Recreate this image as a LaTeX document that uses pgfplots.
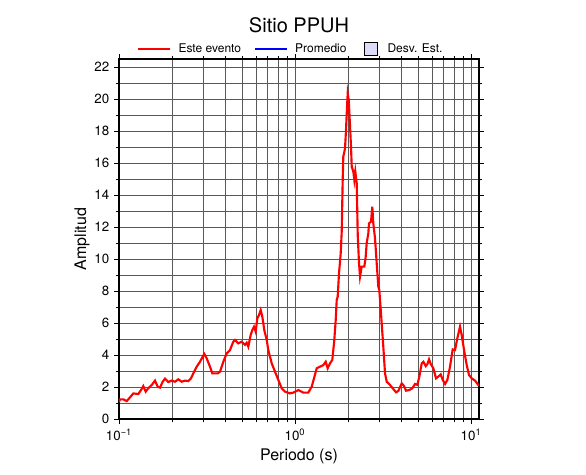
\documentclass[border=0pt]{standalone}
\usepackage{fontspec}
\setmainfont{TeX Gyre Heros}
\usepackage{pgfplots}
\pgfplotsset{compat=1.18}
\usepackage{pgfplotstable}
\definecolor{desvfill}{RGB}{220,220,250}
\pgfplotstableread{
T A
0.1000 1.06
0.1013 1.23
0.1058 1.23
0.1106 1.12
0.1155 1.35
0.1206 1.60
0.1287 1.56
0.1334 1.81
0.1374 2.06
0.1418 1.71
0.1467 1.92
0.1534 2.12
0.1602 2.40
0.1659 2.02
0.1710 1.96
0.1771 2.33
0.1825 2.52
0.1906 2.31
0.1993 2.40
0.2080 2.33
0.2173 2.48
0.2272 2.33
0.2371 2.40
0.2475 2.37
0.2565 2.54
0.2644 2.85
0.2764 3.27
0.2886 3.58
0.2974 3.85
0.3053 4.06
0.3150 3.79
0.3289 3.27
0.3390 2.85
0.3511 2.85
0.3637 2.85
0.3749 2.96
0.3915 3.58
0.4092 4.10
0.4272 4.31
0.4461 4.83
0.4560 4.94
0.4762 4.73
0.4978 4.83
0.5199 4.63
0.5316 4.77
0.5428 4.52
0.5601 5.25
0.5720 5.56
0.5848 5.77
0.5980 5.46
0.6107 6.29
0.6244 6.50
0.6384 6.81
0.6520 6.40
0.6692 5.56
0.6906 4.94
0.7052 4.31
0.7373 3.48
0.7699 2.96
0.8039 2.44
0.8403 1.92
0.8774 1.71
0.9367 1.60
0.9779 1.65
1.0441 1.81
1.1147 1.65
1.1902 1.65
1.2440 2.02
1.2823 2.54
1.3283 3.17
1.3868 3.27
1.4481 3.37
1.4942 3.58
1.5339 3.17
1.5809 3.48
1.6291 3.69
1.6724 4.94
1.7035 6.19
1.7257 7.44
1.7484 7.65
1.7783 9.10
1.8184 10.35
1.8424 11.70
1.8665 14.94
1.8813 16.40
1.9238 16.90
1.9491 18.06
1.9749 19.50
1.9928 20.35
2.0191 19.94
2.0458 18.69
2.0811 17.00
2.1003 15.77
2.1448 15.46
2.1728 14.94
2.2015 15.46
2.2423 14.73
2.2719 11.50
2.3106 9.73
2.3411 8.90
2.3933 9.52
2.4762 9.52
2.5216 10.15
2.5549 11.00
2.6091 11.60
2.6333 12.23
2.7027 12.33
2.7492 13.27
2.7855 12.23
2.8480 11.30
2.9124 9.73
2.9741 8.27
3.0130 8.06
3.0806 6.60
3.1748 4.52
3.2465 2.85
3.3196 2.33
3.4657 2.13
3.6184 1.875
3.7489 1.67
3.8631 1.75
4.0392 2.23
4.1622 2.06
4.2727 1.77
4.4609 1.81
4.6398 1.92
4.8070 2.19
4.9543 2.13
5.0859 2.65
5.2480 3.48
5.3591 3.58
5.5300 3.31
5.6470 3.42
5.7747 3.73
5.9040 3.44
6.1087 3.17
6.3281 2.54
6.5217 2.65
6.7298 2.79
6.9087 2.44
7.1203 2.19
7.3372 2.44
7.5996 3.27
7.8705 4.35
8.1113 4.31
8.3597 5.04
8.6596 5.77
8.8552 5.25
9.1604 4.21
9.4538 3.37
9.7410 2.75
10.092 2.54
10.537 2.40
11.000 2.13
11.100 2.08
}\evento
\begin{document}
\begin{tikzpicture}
\useasboundingbox (-89.25pt,-42pt) rectangle (350.25pt,314.25pt);
\begin{axis}[
  at={(0,0)}, anchor=south west,
  scale only axis, width=270pt, height=270pt,
  xmode=log, xmin=0.1, xmax=11.1,
  ymin=0, ymax=22.5,
  xtick={0.1,1,10},
  xticklabels={10\textsuperscript{−1},10\textsuperscript{0},10\textsuperscript{1}},
  minor xtick={0.2,0.3,0.4,0.5,0.6,0.7,0.8,0.9,2,3,4,5,6,7,8,9},
  ytick={0,2,...,22},
  minor ytick={1,3,...,21},
  /pgf/number format/assume math mode=true,
  tick label style={font=\fontsize{10}{12}\selectfont},
  xmajorgrids, xminorgrids, ymajorgrids, yminorgrids,
  grid style={black!65, line width=0.55pt},
  minor grid style={black!65, line width=0.55pt},
  tick align=outside,
  major tick length=3.75pt, minor tick length=2pt,
  tick style={black, line width=0.6pt},
  axis line style={line width=1.5pt},
  xlabel={Periodo (s)}, ylabel={Amplitud},
  label style={font=\fontsize{12}{14}\selectfont},
  xlabel style={at={(axis description cs:0.5,-0.105)}, anchor=center},
  ylabel style={at={(axis description cs:-0.103,0.5)}, anchor=center},
  title={Sitio PPUH},
  title style={font=\fontsize{15}{18}\selectfont, at={(axis description cs:0.5,1)}, anchor=base, yshift=13.5pt},
  legend columns=3,
  legend style={draw=none, fill=none, font=\fontsize{9}{11}\selectfont,
    at={(axis description cs:0.478,1.028)}, anchor=center,
    /tikz/every odd column/.append style={column sep=3.5pt},
    /tikz/every even column/.append style={column sep=7.5pt},
    inner sep=0pt},
]
\addlegendimage{legend image code/.code={\draw[red, line width=1.6pt] (0pt,0pt) -- (24pt,0pt);}}
\addlegendentry{Este evento}
\addlegendimage{legend image code/.code={\draw[blue, line width=1.6pt] (0pt,0pt) -- (24pt,0pt);}}
\addlegendentry{Promedio}
\addlegendimage{legend image code/.code={\node[inner sep=0pt, minimum width=15.75pt, minimum height=1pt] at (7.875pt,0pt) {}; \filldraw[fill=desvfill, draw=black, line width=0.6pt] (3.75pt,-4.9pt) rectangle (13.5pt,4.9pt);}}
\addlegendentry{Desv. Est.}
\addplot[red, line width=1.6pt, forget plot] table[x=T, y=A] {\evento};
\end{axis}
\end{tikzpicture}
\end{document}
